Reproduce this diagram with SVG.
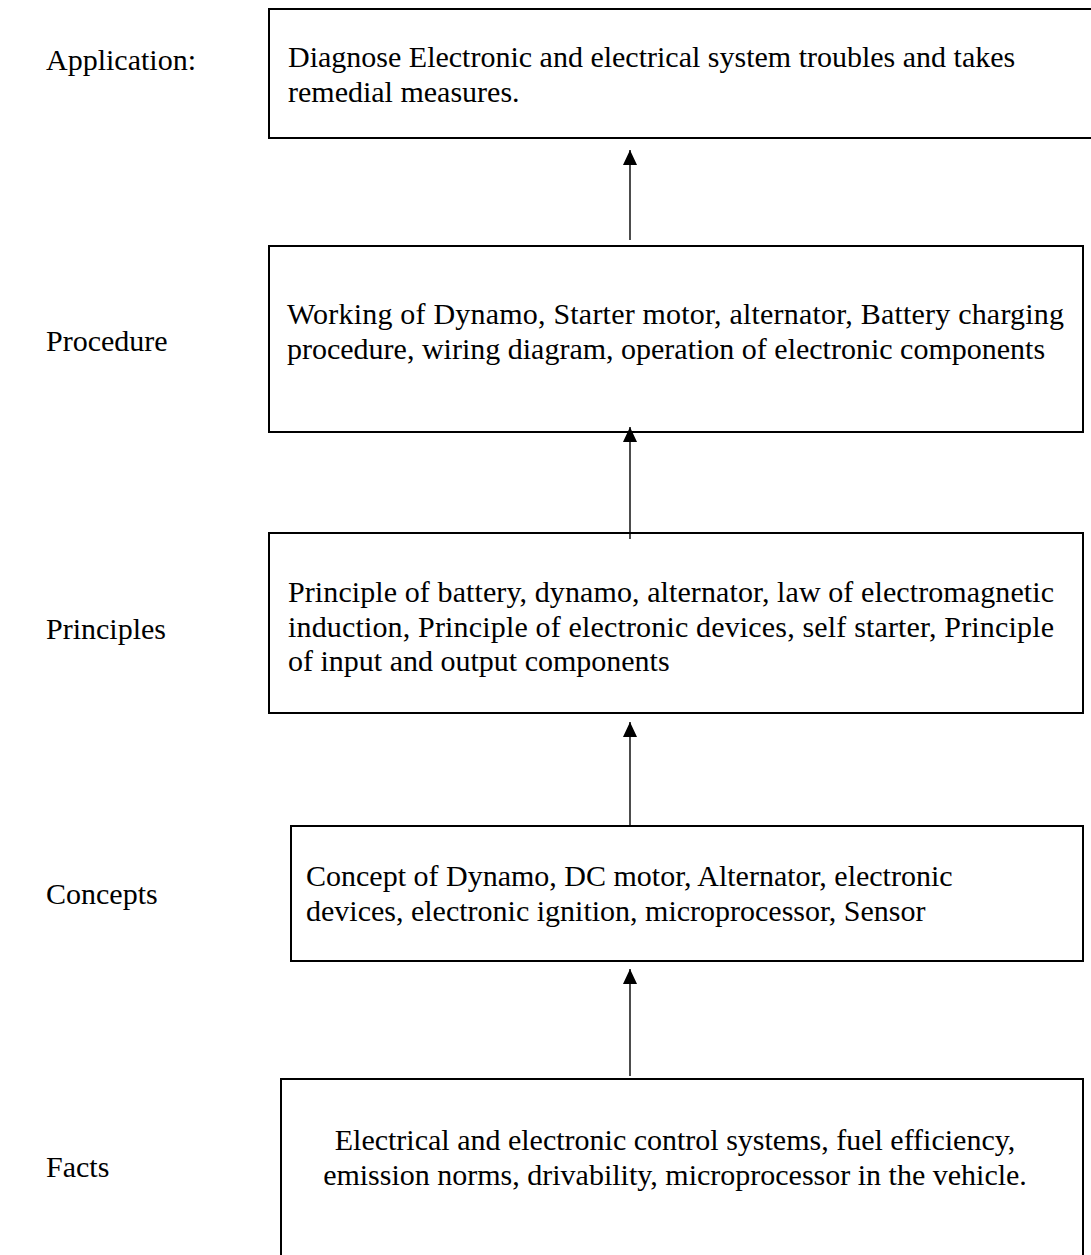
<svg xmlns="http://www.w3.org/2000/svg" width="1091" height="1255" viewBox="0 0 1091 1255">
  <style>
    .box { fill: #ffffff; stroke: #000000; stroke-width: 2; }
    .txt { font-family: "Liberation Serif", "Times New Roman", serif; font-size: 30px; fill: #000000; }
    .lbl { font-family: "Liberation Serif", "Times New Roman", serif; font-size: 30px; fill: #000000; }
    .link { stroke: #000000; stroke-width: 1.4; fill: none; marker-end: url(#head); }
  </style>
  <defs>
    <marker id="head" markerUnits="userSpaceOnUse" markerWidth="16" markerHeight="16" viewBox="0 0 16 16" refX="15" refY="8" orient="auto">
      <path d="M0,1 L15,8 L0,15 Z" fill="#000000"/>
    </marker>
  </defs>
  <rect width="1091" height="1255" fill="#ffffff"/>

  <!-- level labels -->
  <g id="labels">
    <text class="lbl" x="46" y="70">Application:</text>
    <text class="lbl" x="46" y="351">Procedure</text>
    <text class="lbl" x="46" y="639">Principles</text>
    <text class="lbl" x="46" y="904">Concepts</text>
    <text class="lbl" x="46" y="1177">Facts</text>
  </g>

  <g id="application">
    <rect class="box" x="269" y="9" width="840" height="129"/>
    <text class="txt" x="288" y="67">Diagnose Electronic and electrical system troubles and takes</text>
    <text class="txt" x="288" y="101.5">remedial measures.</text>
  </g>

  <g id="procedure">
    <rect class="box" x="269" y="246" width="814" height="186"/>
    <text class="txt" x="287" y="324" textLength="777" lengthAdjust="spacing">Working of Dynamo, Starter motor, alternator, Battery charging</text>
    <text class="txt" x="287" y="358.5">procedure, wiring diagram, operation of electronic components</text>
  </g>

  <g id="principles">
    <rect class="box" x="269" y="533" width="814" height="180"/>
    <text class="txt" x="288" y="602" textLength="766" lengthAdjust="spacing">Principle of battery, dynamo, alternator, law of electromagnetic</text>
    <text class="txt" x="288" y="636.5" textLength="766" lengthAdjust="spacing">induction, Principle of electronic devices, self starter, Principle</text>
    <text class="txt" x="288" y="671">of input and output components</text>
  </g>

  <g id="concepts">
    <rect class="box" x="291" y="826" width="792" height="135"/>
    <text class="txt" x="306" y="886">Concept of Dynamo, DC motor, Alternator, electronic</text>
    <text class="txt" x="306" y="920.5">devices, electronic ignition, microprocessor, Sensor</text>
  </g>

  <g id="facts">
    <rect class="box" x="281" y="1079" width="802" height="200"/>
    <text class="txt" x="675" y="1150" text-anchor="middle">Electrical and electronic control systems, fuel efficiency,</text>
    <text class="txt" x="675" y="1184.5" text-anchor="middle">emission norms, drivability, microprocessor in the vehicle.</text>
  </g>

  <!-- upward arrows between levels -->
  <g id="connectors">
    <line class="link" x1="630" y1="240" x2="630" y2="150"/>
    <line class="link" x1="630" y1="539" x2="630" y2="427"/>
    <line class="link" x1="630" y1="827" x2="630" y2="722"/>
    <line class="link" x1="630" y1="1076" x2="630" y2="969"/>
  </g>
</svg>
